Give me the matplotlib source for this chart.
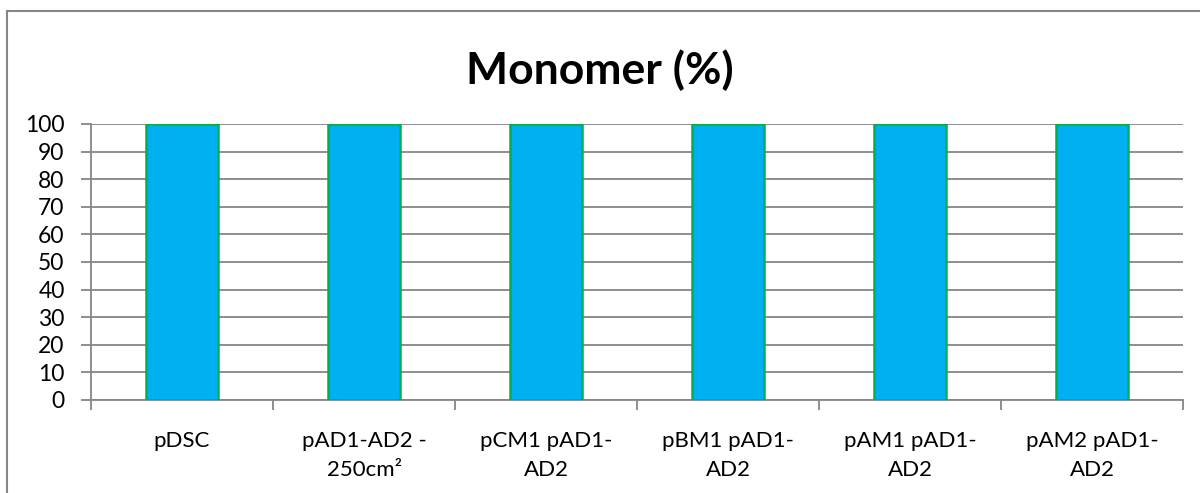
import matplotlib.pyplot as plt
from matplotlib.patches import Rectangle

categories = ["pDSC", "pAD1-AD2 -\n250cm²", "pCM1 pAD1-\nAD2", "pBM1 pAD1-\nAD2",
              "pAM1 pAD1-\nAD2", "pAM2 pAD1-\nAD2"]
monomer = [100, 100, 100, 100, 100, 100]
y_ticks = list(range(0, 101, 10))

W, H = 1200, 493
fig = plt.figure(figsize=(W / 100, H / 100), dpi=100)
plt.rcParams['font.family'] = ['Lato', 'DejaVu Sans']

# chart area border (clipped at the right and bottom edges)
fig.patches.append(Rectangle((7 / W, -0.1), 1.2, 1 - 11 / H + 0.1,
                             transform=fig.transFigure, fill=False,
                             edgecolor='#868686', linewidth=1.5))

ax = fig.add_axes([91 / W, 1 - 400 / H, (1183 - 91) / W, (400 - 124) / H])
x = list(range(len(categories)))
ax.bar(x, monomer, width=0.4, color='#00B0F0', edgecolor='#00B050',
       linewidth=1.8, zorder=3)

ax.set_xlim(-0.5, len(categories) - 0.5)
ax.set_ylim(0, 100)
ax.set_yticks(y_ticks)
ax.set_yticklabels([str(v) for v in y_ticks], fontsize=16.5)
ax.yaxis.grid(True, color='#868686', linewidth=1.3, zorder=0)
ax.set_axisbelow(True)

ax.set_xticks([i - 0.5 for i in range(len(categories) + 1)], minor=False)
ax.set_xticklabels([])
ax.set_xticks(x, minor=True)
ax.set_xticklabels(categories, minor=True, fontsize=16, linespacing=1.6)
ax.tick_params(axis='x', which='major', length=7, width=1.3, color='#868686')
ax.tick_params(axis='x', which='minor', length=0, pad=22)
ax.tick_params(axis='y', length=7, width=1.3, color='#868686', pad=12)

for side in ('top', 'right'):
    ax.spines[side].set_visible(False)
for side in ('left', 'bottom'):
    ax.spines[side].set_color('#868686')
    ax.spines[side].set_linewidth(1.3)

fig.text(0.5, 1 - 70 / H, "Monomer (%)", ha='center', va='center',
         fontsize=32, fontweight='bold')

fig.savefig("out.png", dpi=100)
